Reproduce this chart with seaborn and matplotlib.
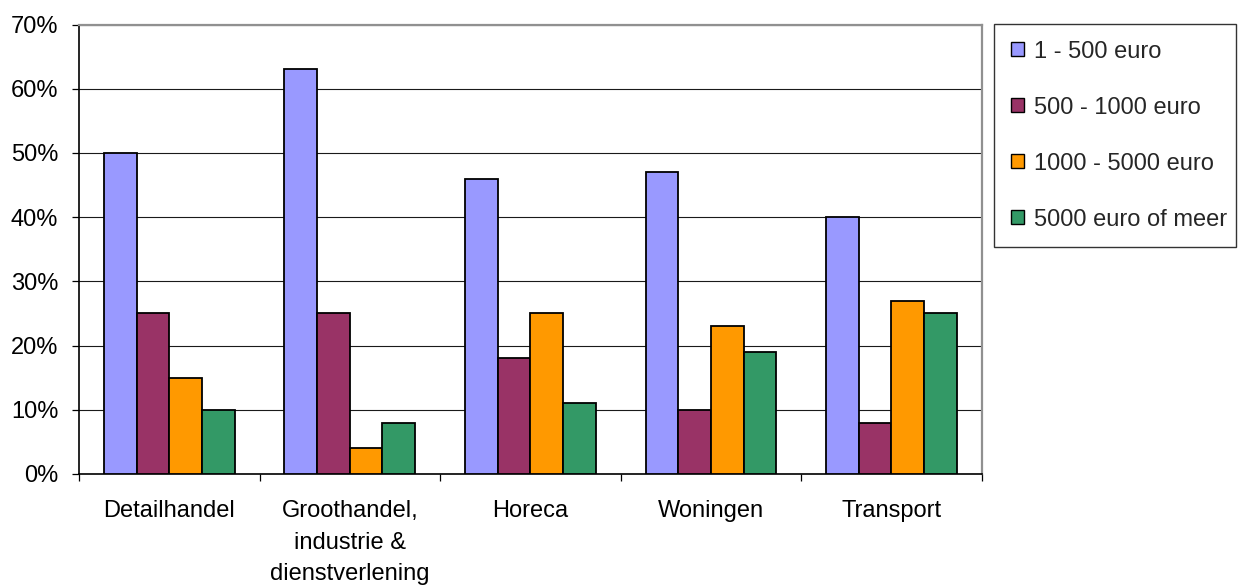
import matplotlib
matplotlib.use("Agg")
import matplotlib.pyplot as plt
import matplotlib.ticker as mticker
import seaborn as sns
import pandas as pd

categories = ["Detailhandel", "Groothandel,\nindustrie &\ndienstverlening", "Horeca", "Woningen", "Transport"]
series = ["1 - 500 euro", "500 - 1000 euro", "1000 - 5000 euro", "5000 euro of meer"]
v_1_500 = [50, 63, 46, 47, 40]
v_500_1000 = [25, 25, 18, 10, 8]
v_1000_5000 = [15, 4, 25, 23, 27]
v_5000_plus = [10, 8, 11, 19, 25]
yticks = [0, 10, 20, 30, 40, 50, 60, 70]
colors = ["#9999FF", "#993366", "#FF9900", "#339966"]

sns.set_style("white")
plt.rcParams["font.family"] = ["Liberation Sans", "DejaVu Sans"]

rows = []
for s, vals in zip(series, [v_1_500, v_500_1000, v_1000_5000, v_5000_plus]):
    for c, v in zip(categories, vals):
        rows.append({"category": c, "series": s, "value": v})
df = pd.DataFrame(rows)

fig = plt.figure(figsize=(12.4, 5.88), dpi=100)
ax = fig.add_axes([79 / 1240, 1 - 474 / 588, (981.7 - 79) / 1240, (474 - 24.5) / 588])

sns.barplot(data=df, x="category", y="value", hue="series", order=categories,
            hue_order=series, palette=colors, saturation=1, width=0.724,
            edgecolor="black", linewidth=1.3, errorbar=None, ax=ax, zorder=3)

ax.set_ylim(0, 70)
ax.set_xlim(-0.5, len(categories) - 0.5)
ax.set_yticks(yticks)
ax.yaxis.set_major_formatter(mticker.FuncFormatter(lambda v, p: f"{v:.0f}%"))
ax.set_xlabel("")
ax.set_ylabel("")

ax.yaxis.grid(True, color="#1a1a1a", linewidth=0.8)
ax.xaxis.grid(False)
ax.set_axisbelow(True)

for side in ["left", "bottom"]:
    ax.spines[side].set_color("black")
    ax.spines[side].set_linewidth(1.2)
for side in ["top", "right"]:
    ax.spines[side].set_visible(True)
    ax.spines[side].set_color("#909090")
    ax.spines[side].set_linewidth(1.6)

ax.tick_params(axis="y", which="major", direction="out", length=5, width=0.9,
               color="black", labelsize=17, pad=10, left=True)
ax.set_xticks(range(len(categories)))
ax.set_xticklabels(categories, linespacing=1.55)
ax.set_xticks([i - 0.5 for i in range(len(categories) + 1)], minor=True)
ax.tick_params(axis="x", which="major", length=0, labelsize=17, pad=19)
ax.tick_params(axis="x", which="minor", direction="out", length=5, width=0.9,
               color="black", bottom=True)
for t in ax.get_xticklabels() + ax.get_yticklabels():
    t.set_color("black")

leg = ax.get_legend()
handles = leg.legend_handles
labels = [t.get_text() for t in leg.get_texts()]
leg.remove()
x0, x1, ytop, ybot = 994.3, 1236.0, 24.0, 246.0
lg = fig.legend(handles, labels, loc="upper left", mode="expand",
                bbox_to_anchor=(x0 / 1240, 1 - ybot / 588, (x1 - x0) / 1240, (ybot - ytop) / 588),
                borderaxespad=0,
                fontsize=17, frameon=True, fancybox=False, edgecolor="black",
                handlelength=0.55, handleheight=0.55, handletextpad=0.45,
                labelspacing=1.44, borderpad=0.7)
lg.get_frame().set_linewidth(1.0)
for h in lg.legend_handles:
    h.set_edgecolor("black")
    h.set_linewidth(1.0)

fig.savefig("out.png", dpi=100, facecolor="white")
